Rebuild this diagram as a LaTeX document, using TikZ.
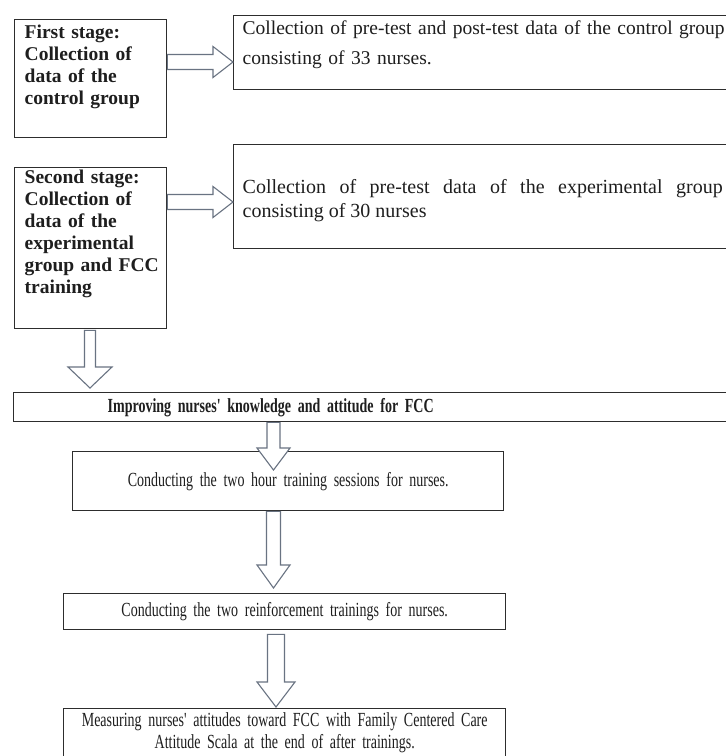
\documentclass[tikz,border=0pt]{standalone}
\usepackage{fontspec}
\setmainfont{Liberation Serif}
\newfontfamily\condfont[FakeStretch=0.70]{Liberation Serif}
\usetikzlibrary{calc}
\definecolor{boxline}{RGB}{45,45,45}
\definecolor{arrline}{RGB}{105,115,130}
\definecolor{txt}{RGB}{30,30,30}
\newcommand\tightspace{\spaceskip=3.6pt plus 1pt minus 0.5pt\relax}
\tikzset{
  box/.style={draw=boxline, line width=1.4pt, fill=white, rectangle, anchor=north west, text=txt},
  blockarr/.style={draw=arrline, line width=1.1pt, fill=white, line join=miter},
  stagefont/.style={font=\fontsize{19.5}{22}\selectfont\bfseries},
  datafont/.style={font=\fontsize{19.5}{30}\selectfont},
  condtext/.style={font=\condfont\fontsize{20}{22}\selectfont\tightspace},
}
% horizontal hollow block arrow: from #1 to #2, shaft half width #3, head half width #4, head length #5
\newcommand\hblockarrow[5]{%
  \draw[blockarr] let \p1=(#1), \p2=(#2) in
    (\x1,\y1+#3) -- (\x2-#5,\y1+#3) -- (\x2-#5,\y1+#4) -- (\x2,\y1)
    -- (\x2-#5,\y1-#4) -- (\x2-#5,\y1-#3) -- (\x1,\y1-#3) -- cycle;}
% vertical (downward) hollow block arrow
\newcommand\vblockarrow[5]{%
  \draw[blockarr] let \p1=(#1), \p2=(#2) in
    (\x1-#3,\y1) -- (\x1-#3,\y2+#5) -- (\x1-#4,\y2+#5) -- (\x1,\y2)
    -- (\x1+#4,\y2+#5) -- (\x1+#3,\y2+#5) -- (\x1+#3,\y1) -- cycle;}
\begin{document}
\begin{tikzpicture}[x=1pt,y=-1pt]
\useasboundingbox (0,0) rectangle (726,756);
\fill[white] (0,0) rectangle (726,756);
\clip (0,0) rectangle (726,756);

% stage boxes
\node[box, stagefont, inner xsep=10pt, inner ysep=0pt, text width=132pt,
      text height=19pt, text depth=99pt, align=left] (s1) at (14,19)
  {First stage:\\ Collection of\\ data of the\\ control group};
\node[box, stagefont, inner xsep=10pt, inner ysep=0pt, text width=132pt,
      text height=16pt, text depth=145pt, align=left] (s2) at (14,167)
  {Second stage:\\ Collection of\\ data of the\\ experimental\\ \mbox{group and FCC}\\ training};

% data boxes
\node[box, datafont, inner xsep=9pt, inner ysep=0pt, text width=495pt,
      text height=19pt, text depth=55pt, align=left] (a) at (233,15)
  {Collection of pre-test and post-test data of the control group\\ consisting of 33 nurses.};
\node[box, font=\fontsize{20}{24}\selectfont, inner xsep=9pt, inner ysep=0pt, text width=480pt,
      text height=49pt, text depth=55pt, align=justify] (b) at (233,144)
  {\hyphenpenalty=10000\exhyphenpenalty=10000\tolerance=10000
   Collection of pre-test data of the experimental group\linebreak consisting of 30 nurses};

% flow boxes
\node[box, font={\condfont\bfseries\fontsize{20}{22}\selectfont\tightspace}, inner xsep=0pt, inner ysep=0pt,
      text width=740pt, minimum height=29pt, align=left] (c) at (13,392)
  {\hspace*{94pt}Improving nurses' knowledge and attitude for FCC};
\node[box, condtext, inner sep=0pt, text width=420pt, minimum width=431pt,
      minimum height=59pt, align=center] (d) at (72,451)
  {Conducting the two hour training sessions for nurses.};
\node[box, condtext, inner sep=0pt, text width=420pt, minimum width=442pt,
      minimum height=36pt, align=center] (e) at (63,593)
  {Conducting the two reinforcement trainings for nurses.};
\node[box, condtext, inner xsep=5pt, inner ysep=0pt, text width=432pt,
      text height=18pt, text depth=62pt, align=center] (f) at (63,708)
  {\mbox{Measuring nurses' attitudes toward FCC with Family Centered Care}\\
   Attitude Scala at the end of after trainings.};

% connector coordinates
\coordinate (r1s) at ($(s1.north east)+(0,43)$);
\coordinate (r1e) at (r1s -| a.west);
\coordinate (r2s) at ($(s2.north east)+(0,35)$);
\coordinate (r2e) at (r2s -| b.west);
\coordinate (d1s) at ($(s2.south west)+(76,1)$);
\coordinate (d1e) at ($(d1s |- c.north)+(0,-4)$);
\coordinate (d2s) at ($(c.south west)+(260.5,0)$);
\coordinate (d2e) at ($(d2s |- d.north)+(0,19)$);
\coordinate (d3s) at (d2s |- d.south);
\coordinate (d3e) at ($(d3s |- e.north)+(0,-5)$);
\coordinate (d4s) at ($(e.south west)+(213,4)$);
\coordinate (d4e) at ($(d4s |- f.north)+(0,-1)$);

% block arrows
\hblockarrow{r1s}{r1e}{7.5pt}{15.5pt}{20pt}
\hblockarrow{r2s}{r2e}{7.5pt}{15.5pt}{20pt}
\vblockarrow{d1s}{d1e}{5.5pt}{22pt}{21pt}
\vblockarrow{d2s}{d2e}{6.5pt}{16.5pt}{22pt}
\vblockarrow{d3s}{d3e}{7pt}{16.5pt}{23pt}
\vblockarrow{d4s}{d4e}{8.5pt}{19pt}{25pt}
\end{tikzpicture}
\end{document}
